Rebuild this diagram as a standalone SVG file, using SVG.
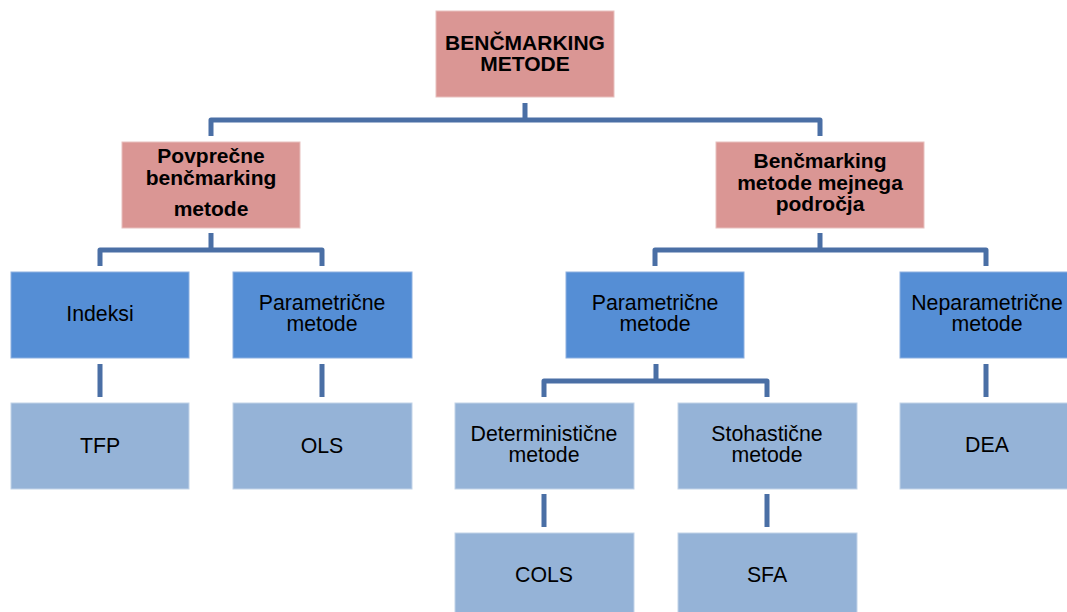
<svg xmlns="http://www.w3.org/2000/svg" width="1067" height="612" viewBox="0 0 1067 612">
<style>
.pink{fill:#DA9694;stroke:#E8C0BE;stroke-width:1}
.mid{fill:#558ED5;stroke:#8DB0E0;stroke-width:1}
.light{fill:#95B3D7;stroke:#C2D3E8;stroke-width:1}
.b{font-family:"Liberation Sans",Arial,sans-serif;font-size:21px;font-weight:bold;fill:#000;text-anchor:middle}
.t{font-family:"Liberation Sans",Arial,sans-serif;font-size:21.3px;fill:#000;text-anchor:middle}
.c{fill:none;stroke:#4A6FA5;stroke-width:5;stroke-linejoin:round}
</style>
<rect width="1067" height="612" fill="#fff"/>
<g id="connectors">
<path class="c" d="M525 103V120M211 136V120H820V136"/>
<path class="c" d="M211 233V250M100 266V250H322V266"/>
<path class="c" d="M820 233V250M655 266V250H986V266"/>
<path class="c" d="M100 364V397M322 364V397M986 364V397"/>
<path class="c" d="M656 364V381M544 397V381H767V397"/>
<path class="c" d="M544 494V527M767 494V527"/>
</g>
<g id="root"><rect class="pink" x="436" y="11" width="178" height="86"/><text class="b" x="525" y="50">BENČMARKING</text><text class="b" x="525" y="71">METODE</text></g>
<g id="avg"><rect class="pink" x="122" y="142" width="178" height="86"/><text class="b" x="211" y="163">Povprečne</text><text class="b" x="211" y="185">benčmarking</text><text class="b" x="211" y="216">metode</text></g>
<g id="frontier"><rect class="pink" x="716" y="142" width="208" height="86"/><text class="b" x="820" y="168">Benčmarking</text><text class="b" x="820" y="190">metode mejnega</text><text class="b" x="820" y="211">področja</text></g>
<g id="indeksi"><rect class="mid" x="11" y="272" width="178" height="86"/><text class="t" x="100" y="321">Indeksi</text></g>
<g id="param1"><rect class="mid" x="233" y="272" width="179" height="86"/><text class="t" x="322" y="310">Parametrične</text><text class="t" x="322" y="331">metode</text></g>
<g id="param2"><rect class="mid" x="566" y="272" width="178" height="86"/><text class="t" x="655" y="310">Parametrične</text><text class="t" x="655" y="331">metode</text></g>
<g id="nonparam"><rect class="mid" x="900" y="272" width="178" height="86"/><text class="t" x="987" y="310">Neparametrične</text><text class="t" x="987" y="331">metode</text></g>
<g id="tfp"><rect class="light" x="11" y="403" width="178" height="86"/><text class="t" x="100" y="453">TFP</text></g>
<g id="ols"><rect class="light" x="233" y="403" width="179" height="86"/><text class="t" x="322" y="453">OLS</text></g>
<g id="determ"><rect class="light" x="455" y="403" width="179" height="86"/><text class="t" x="544" y="441">Deterministične</text><text class="t" x="544" y="462">metode</text></g>
<g id="stoh"><rect class="light" x="678" y="403" width="179" height="86"/><text class="t" x="767" y="441">Stohastične</text><text class="t" x="767" y="462">metode</text></g>
<g id="dea"><rect class="light" x="900" y="403" width="178" height="86"/><text class="t" x="987" y="452">DEA</text></g>
<g id="cols"><rect class="light" x="455" y="533" width="179" height="86"/><text class="t" x="544" y="582">COLS</text></g>
<g id="sfa"><rect class="light" x="678" y="533" width="179" height="86"/><text class="t" x="767" y="582">SFA</text></g>
</svg>
